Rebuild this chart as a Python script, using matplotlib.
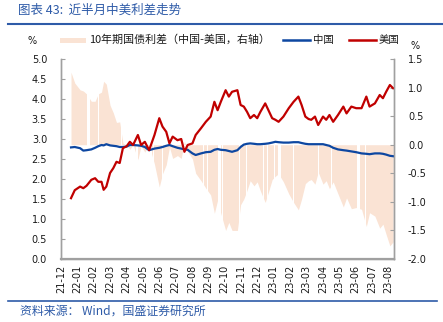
import matplotlib
matplotlib.use("Agg")
import matplotlib.pyplot as plt
import numpy as np
from matplotlib.lines import Line2D
from matplotlib.patches import Rectangle

plt.rcParams['font.family'] = ['DejaVu Sans', 'Noto Sans CJK SC']
CJK = ['Noto Sans CJK SC', 'DejaVu Sans']

# ---- data (x = days since 2021-12-31) ----
days = [0, 7, 17, 23, 29, 38, 45, 51, 57, 61, 66, 73, 79, 85, 91, 97, 104, 110, 116, 125,
        131, 138, 146, 156, 165, 171, 178, 184, 190, 199, 206, 212, 218, 227, 233, 243, 252,
        261, 268, 274, 280, 289, 295, 301, 311, 317, 323, 329, 335, 342, 348, 354, 363, 369,
        376, 382, 388, 397, 407, 416, 425, 431, 438, 444, 449, 456, 462, 471, 477, 483, 490,
        499, 509, 515, 524, 533, 543, 552, 558, 568, 577, 583, 589, 596, 602]
us = [1.52, 1.72, 1.81, 1.77, 1.83, 1.98, 2.02, 1.93, 1.93, 1.73, 1.81, 2.15, 2.27, 2.43, 2.40,
      2.77, 2.82, 2.93, 2.85, 3.10, 2.85, 2.93, 2.72, 3.10, 3.52, 3.31, 3.18, 2.89, 3.06, 2.97,
      3.00, 2.68, 2.85, 2.89, 3.10, 3.27, 3.43, 3.56, 3.93, 3.72, 3.93, 4.22, 4.06, 4.18, 4.22,
      3.85, 3.81, 3.68, 3.52, 3.60, 3.52, 3.68, 3.89, 3.72, 3.52, 3.48, 3.43, 3.56, 3.77, 3.93,
      4.06, 3.85, 3.56, 3.50, 3.48, 3.56, 3.35, 3.56, 3.48, 3.60, 3.43, 3.60, 3.81, 3.64, 3.81,
      3.77, 3.77, 4.06, 3.81, 3.89, 4.10, 4.02, 4.18, 4.35, 4.27]
china = [2.79, 2.80, 2.77, 2.71, 2.72, 2.74, 2.78, 2.82, 2.85, 2.84, 2.87, 2.84, 2.83, 2.82, 2.80,
         2.80, 2.81, 2.85, 2.85, 2.84, 2.83, 2.80, 2.72, 2.76, 2.78, 2.80, 2.83, 2.85, 2.82, 2.78,
         2.76, 2.74, 2.73, 2.64, 2.60, 2.64, 2.67, 2.68, 2.73, 2.75, 2.73, 2.72, 2.70, 2.68, 2.72,
         2.80, 2.86, 2.88, 2.89, 2.88, 2.87, 2.87, 2.88, 2.89, 2.91, 2.93, 2.92, 2.91, 2.91, 2.92,
         2.92, 2.90, 2.88, 2.87, 2.87, 2.87, 2.87, 2.87, 2.85, 2.83, 2.78, 2.74, 2.72, 2.71, 2.69,
         2.67, 2.64, 2.63, 2.62, 2.64, 2.64, 2.63, 2.61, 2.58, 2.57]
spread = [1.27, 1.08, 0.96, 0.94, 0.89, 0.76, 0.76, 0.89, 0.92, 1.11, 1.06, 0.69, 0.56, 0.39, 0.40,
          0.03, -0.01, -0.08, 0.00, -0.26, -0.02, -0.13, 0.00, -0.34, -0.74, -0.51, -0.35, -0.04,
          -0.24, -0.19, -0.24, 0.06, -0.12, -0.25, -0.50, -0.63, -0.76, -0.88, -1.20, -0.97, -1.20,
          -1.50, -1.36, -1.50, -1.50, -1.05, -0.95, -0.80, -0.63, -0.72, -0.65, -0.81, -1.01, -0.83,
          -0.61, -0.55, -0.51, -0.65, -0.86, -1.01, -1.14, -0.95, -0.68, -0.63, -0.61, -0.69, -0.48,
          -0.69, -0.63, -0.77, -0.65, -0.86, -1.09, -0.93, -1.12, -1.10, -1.13, -1.43, -1.19, -1.25,
          -1.46, -1.39, -1.57, -1.77, -1.70]
# days where one market was closed (spread missing), start/end
gap_days = [(17, 17), (31, 35), (52, 52), (94, 95), (105, 105), (122, 124), (150, 150),
            (154, 154), (171, 171), (185, 185), (248, 248), (255, 255), (276, 280), (283, 283),
            (315, 315), (328, 328), (360, 360), (367, 367), (381, 381), (388, 392), (416, 416),
            (460, 460), (462, 462), (486, 488), (514, 514), (535, 535), (538, 539), (550, 550)]
xtick_labels = ['21-12', '22-01', '22-02', '22-03', '22-04', '22-05', '22-06', '22-07', '22-08',
                '22-09', '22-10', '22-11', '22-12', '23-01', '23-02', '23-03', '23-04', '23-05',
                '23-06', '23-07', '23-08']
left_ticks = [0.0, 0.5, 1.0, 1.5, 2.0, 2.5, 3.0, 3.5, 4.0, 4.5, 5.0]
right_ticks = [-2.0, -1.5, -1.0, -0.5, 0.0, 0.5, 1.0, 1.5]

RED = '#C00000'
BLUE = '#0D47A1'
FILL = '#FAE3D4'
TBLUE = '#2E5BA8'
GRAY = '#A0A0A0'
TXT = '#1a1a1a'

fig = plt.figure(figsize=(4.43, 3.22), dpi=100)
ax1 = fig.add_axes([61/443, 1-259/322, (394-61)/443, 200/322])
ax2 = ax1.twinx()
ax1.set_zorder(ax2.get_zorder() + 1)
ax1.patch.set_visible(False)

ax2.fill_between(days, 0, spread, color=FILL, lw=0)
for a, b in gap_days:
    ax2.axvspan(a - 0.7, b + 0.7, color='white', lw=0)
ax2.set_ylim(-2.0, 1.5)
ax2.set_yticks(right_ticks)
ax2.set_yticklabels([f'{v:.1f}' for v in right_ticks])

ax1.plot(days, china, color=BLUE, lw=1.6, solid_joinstyle='round')
ax1.plot(days, us, color=RED, lw=1.6, solid_joinstyle='round')
ax1.set_ylim(0, 5.0)
ax1.set_yticks(left_ticks)
ax1.set_yticklabels([f'{v:.1f}' for v in left_ticks])

xt = np.linspace(-18.7, 593, len(xtick_labels))
ax1.set_xlim(-18.7, 603.7)
ax1.set_xticks(xt)
ax1.set_xticklabels(xtick_labels, rotation=90)

for ax in (ax1, ax2):
    ax.spines['top'].set_visible(False)
    for s in ('left', 'right', 'bottom'):
        ax.spines[s].set_color(GRAY)
        ax.spines[s].set_linewidth(1.0)
ax1.spines['bottom'].set_linewidth(1.6)
ax1.tick_params(axis='y', direction='in', length=3, color=GRAY, labelsize=7, pad=10, labelcolor=TXT)
ax2.tick_params(axis='y', direction='in', length=3, color=GRAY, labelsize=7, pad=10, labelcolor=TXT)
ax1.tick_params(axis='x', length=0, labelsize=7, pad=4, labelcolor=TXT)

# percent labels
fig.text(32/443, 1-41/322, '%', fontsize=7, ha='center', va='center', color=TXT)
fig.text(415/443, 1-46/322, '%', fontsize=7, ha='center', va='center', color=TXT)

# legend (manual)
ly = 1 - 40/322
fig.add_artist(Rectangle((60/443, 1-42.5/322), 26/443, 5/322, transform=fig.transFigure,
                         facecolor=FILL, edgecolor='none'))
fig.text(89/443, ly, '10年期国债利差（中国-美国，右轴）', family=CJK, fontsize=7.9,
         ha='left', va='center', color=TXT)
fig.add_artist(Line2D([283/443, 310/443], [ly, ly], transform=fig.transFigure, color=BLUE, lw=1.8))
fig.text(313/443, ly, '中国', family=CJK, fontsize=7.5, ha='left', va='center', color=TXT)
fig.add_artist(Line2D([349/443, 376/443], [ly, ly], transform=fig.transFigure, color=RED, lw=1.8))
fig.text(379/443, ly, '美国', family=CJK, fontsize=7.5, ha='left', va='center', color=TXT)

# title, rules, source
fig.text(18/443, 1-10/322, '图表 43:  近半月中美利差走势', family=CJK, fontsize=9,
         ha='left', va='center', color=TBLUE, style='italic')
fig.add_artist(Line2D([8/443, 1.0], [1-23.5/322, 1-23.5/322], transform=fig.transFigure,
                      color=TBLUE, lw=1.5))
fig.add_artist(Line2D([8/443, 437/443], [1-300.5/322, 1-300.5/322], transform=fig.transFigure,
                      color=TBLUE, lw=1.2))
fig.text(20/443, 1-311/322, '资料来源： Wind，国盛证券研究所', family=CJK, fontsize=8.6,
         ha='left', va='center', color=TBLUE, style='italic')

fig.savefig('out.png', dpi=100)
